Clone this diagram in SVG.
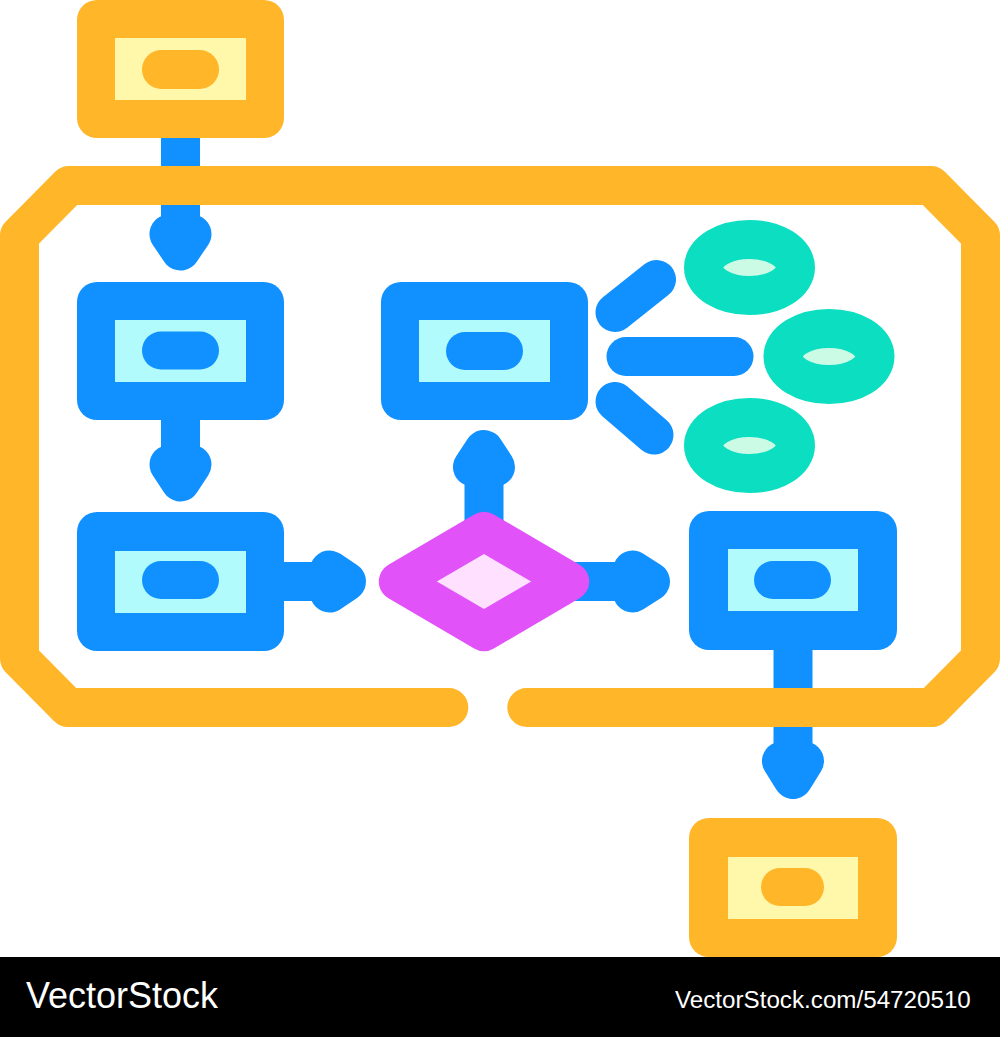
<svg xmlns="http://www.w3.org/2000/svg" width="1000" height="1037" viewBox="0 0 1000 1037">
<style>
.bl{fill:#1191FF}
.cy{fill:#B2FBFC}
.or{fill:#FFB628}
.ly{fill:#FFF7A9}
.ln{stroke:#1191FF;stroke-width:39;fill:none}
.rc{stroke-linecap:round}
.ah{fill:#1191FF;stroke:#1191FF;stroke-width:39;stroke-linejoin:round}
.el{fill:#CCFBE5;stroke:#0CDEC1;stroke-width:39}
.txt{fill:#FFFFFF;font-family:"Liberation Sans",Arial,sans-serif}
</style>
<rect width="1000" height="1037" fill="#FFFFFF"/>
<g id="connectors">
<line class="ln" x1="180.5" y1="130" x2="180.5" y2="240"/>
<path class="ah" d="M169,234 L192,234 L180.5,251 Z"/>
<line class="ln" x1="180.5" y1="410" x2="180.5" y2="470"/>
<path class="ah" d="M169,464.5 L192,464.5 L180.5,482 Z"/>
<line class="ln" x1="280" y1="581.5" x2="335" y2="581.5"/>
<path class="ah" d="M329.5,570 L329.5,593 L346.5,581.5 Z"/>
<line class="ln" x1="484" y1="560" x2="484" y2="462"/>
<path class="ah" d="M484,449.5 L472.5,467 L495.5,467 Z"/>
<line class="ln" x1="540" y1="581.5" x2="640" y2="581.5"/>
<path class="ah" d="M632.5,570 L632.5,593 L650.5,581.5 Z"/>
<line class="ln" x1="793" y1="640" x2="793" y2="770"/>
<path class="ah" d="M781.5,761 L804.5,761 L793,779.5 Z"/>
<line class="ln rc" x1="615" y1="312.5" x2="656.5" y2="279.5"/>
<line class="ln rc" x1="626" y1="356.5" x2="734" y2="356.5"/>
<line class="ln rc" x1="615" y1="401.5" x2="654" y2="435"/>
</g>
<g id="frame">
<path d="M448.8,707.5 L68,707.5 L19.5,658.5 L19.5,235.5 L69,185.5 L931,185.5 L980.5,235.5 L980.5,658.5 L932,707.5 L526.8,707.5" fill="none" stroke="#FFB628" stroke-width="39" stroke-linejoin="round" stroke-linecap="round"/>
</g>
<g id="start">
<rect class="or" x="77" y="0" width="207" height="138" rx="20"/>
<rect class="ly" x="115" y="38" width="131" height="62"/>
<rect class="or" x="142" y="50" width="77" height="39" rx="19.5"/>
</g>
<g id="box1">
<rect class="bl" x="77" y="282" width="207" height="138" rx="20"/>
<rect class="cy" x="115" y="320" width="131" height="62"/>
<rect class="bl" x="142" y="331.5" width="77" height="38" rx="19"/>
</g>
<g id="box2">
<rect class="bl" x="77" y="512" width="207" height="139" rx="20"/>
<rect class="cy" x="115" y="551" width="131" height="62"/>
<rect class="bl" x="142" y="561" width="77" height="38" rx="19"/>
</g>
<g id="decision">
<path d="M398.3,581.5 L484,531.4 L569.7,581.5 L484,631.6 Z" fill="#FFE0FE" stroke="#E152F9" stroke-width="39" stroke-linejoin="round"/>
</g>
<g id="box3">
<rect class="bl" x="381" y="282" width="207" height="138" rx="20"/>
<rect class="cy" x="419" y="320" width="131" height="62"/>
<rect class="bl" x="446" y="332" width="77" height="38" rx="19"/>
</g>
<g id="box4">
<rect class="bl" x="689" y="511" width="208" height="139" rx="20"/>
<rect class="cy" x="728" y="549" width="130" height="62"/>
<rect class="bl" x="754" y="561" width="77" height="38" rx="19"/>
</g>
<g id="end">
<rect class="or" x="689" y="818" width="208" height="139" rx="20"/>
<rect class="ly" x="728" y="857" width="130" height="62"/>
<rect class="or" x="761" y="868" width="63" height="38" rx="19"/>
</g>
<g id="ellipse1"><ellipse class="el" cx="749.5" cy="267.5" rx="46" ry="28"/></g>
<g id="ellipse2"><ellipse class="el" cx="829" cy="356.5" rx="46" ry="28"/></g>
<g id="ellipse3"><ellipse class="el" cx="749.5" cy="445.5" rx="46" ry="28"/></g>
<g id="footer">
<rect x="0" y="957" width="1000" height="80" fill="#000000"/>
<text class="txt" x="26" y="1008" font-size="36">VectorStock</text>
<text class="txt" x="675" y="1008" font-size="24.2">VectorStock.com/54720510</text>
</g>
</svg>
